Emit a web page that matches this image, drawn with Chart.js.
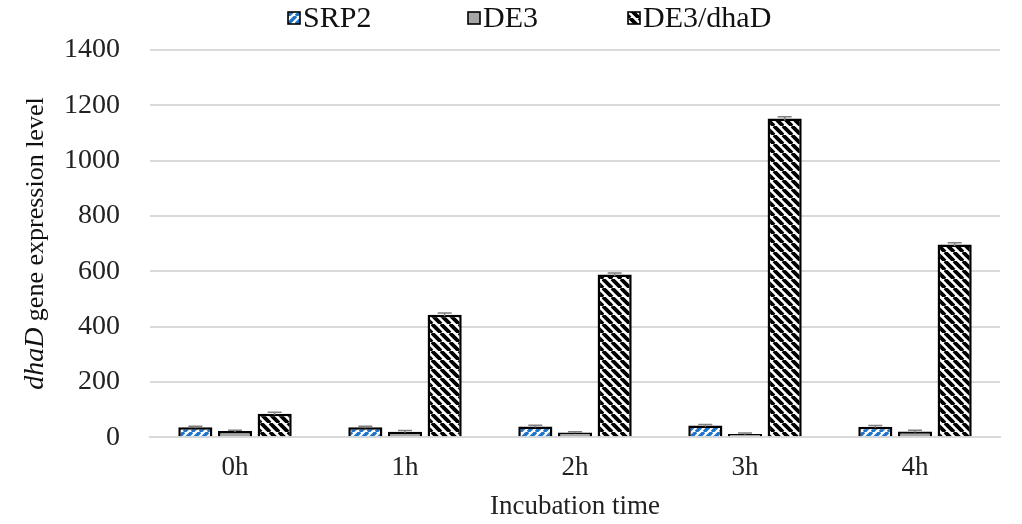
<!DOCTYPE html>
<html>
<head>
<meta charset="utf-8">
<script src="https://cdn.jsdelivr.net/npm/chart.js@4/dist/chart.umd.min.js"></script>
<style>
  html, body { margin: 0; padding: 0; background: #fff; }
  #wrap { width: 1022px; height: 524px; }
</style>
</head>
<body>
<div id="wrap"><canvas id="canvas1" width="1022" height="524"></canvas></div>
<script>
// Donnees
const categories = ['0h', '1h', '2h', '3h', '4h'];
const seriesNames = ['SRP2', 'DE3', 'DE3/dhaD'];
const srp2 = [36, 36, 39, 42, 38];
const de3 = [22, 20, 17, 12, 21];
const de3Dhad = [85, 443, 588, 1152, 697];
const srp2Err = [4, 4, 4, 4, 4];
const de3Err = [3, 4, 3, 3, 4];
const de3DhadErr = [5, 6, 6, 7, 6];
const yTicks = [0, 200, 400, 600, 800, 1000, 1200, 1400];

const serif = "'Liberation Serif', 'Times New Roman', serif";

// motifs de remplissage
function stripePattern(bg, fg, size, lineW, forward) {
    let c = document.createElement('canvas');
    c.width = size; c.height = size;
    let g = c.getContext('2d');
    g.fillStyle = bg;
    g.fillRect(0, 0, size, size);
    g.strokeStyle = fg;
    g.lineWidth = lineW;
    g.beginPath();
    for (let k = -1; k <= 1; k++) {
        if (forward) {
            g.moveTo(k * size, size);
            g.lineTo(k * size + size, 0);
        } else {
            g.moveTo(k * size, 0);
            g.lineTo(k * size + size, size);
        }
    }
    g.stroke();
    return g.createPattern(c, 'repeat');
}

let ctx = document.getElementById('canvas1').getContext('2d');
const blueStripes = stripePattern('#ffffff', '#1f73c8', 8, 3.4, true);
const greyFill = '#a6a6a6';
const blackStripes = stripePattern('#ffffff', '#000000', 9, 3.8, false);
const fills = [blueStripes, greyFill, blackStripes];

// barres d'erreur
const errorBars = {
    id: 'errorBars',
    afterDatasetsDraw(chart) {
        const c = chart.ctx;
        const y = chart.scales.y;
        chart.data.datasets.forEach((ds, i) => {
            const meta = chart.getDatasetMeta(i);
            meta.data.forEach((bar, j) => {
                const v = ds.data[j], e = ds.errors[j];
                const top = y.getPixelForValue(v + e);
                const bot = y.getPixelForValue(v - e);
                c.save();
                c.strokeStyle = '#7f7f7f';
                c.lineWidth = 1.5;
                c.beginPath();
                c.moveTo(bar.x, top); c.lineTo(bar.x, bot);
                c.moveTo(bar.x - 7, top); c.lineTo(bar.x + 7, top);
                c.stroke();
                c.restore();
            });
        });
    }
};

// legende et titre de l'axe y (dhaD en italique)
const customText = {
    id: 'customText',
    afterDraw(chart) {
        const c = chart.ctx;
        c.save();
        // legende
        const items = [[288, seriesNames[0]], [468, seriesNames[1]], [628, seriesNames[2]]];
        c.font = '30px ' + serif;
        c.textBaseline = 'middle';
        items.forEach((it, i) => {
            c.fillStyle = fills[i];
            c.fillRect(it[0], 12, 12, 12);
            c.strokeStyle = '#000';
            c.lineWidth = 1.6;
            c.strokeRect(it[0], 12, 12, 12);
            c.fillStyle = '#111';
            c.textAlign = 'left';
            c.fillText(it[1], it[0] + 15, 19);
        });
        // titre y
        const area = chart.chartArea;
        c.translate(36, (area.top + area.bottom) / 2);
        c.rotate(-Math.PI / 2);
        const part1 = 'dhaD', part2 = ' gene expression level';
        c.font = 'italic 28px ' + serif;
        const w1 = c.measureText(part1).width;
        c.font = '26px ' + serif;
        const w2 = c.measureText(part2).width;
        let x0 = -(w1 + w2) / 2;
        c.textAlign = 'left';
        c.fillStyle = '#111';
        c.font = 'italic 28px ' + serif;
        c.fillText(part1, x0, 0);
        c.font = '26px ' + serif;
        c.fillText(part2, x0 + w1, 0);
        c.restore();
    }
};

const datasets = [srp2, de3, de3Dhad].map((vals, i) => ({
    label: seriesNames[i],
    data: vals,
    errors: [srp2Err, de3Err, de3DhadErr][i],
    backgroundColor: fills[i],
    borderColor: '#000000',
    borderWidth: 2.5,
    borderSkipped: 'bottom',
    categoryPercentage: 0.7,
    barPercentage: 0.86
}));

let chart = new Chart(ctx, {
    type: 'bar',
    data: { labels: categories, datasets: datasets },
    options: {
        responsive: false,
        animation: false,
        layout: { autoPadding: false, padding: { top: 50, right: 22, left: 34, bottom: 0 } },
        plugins: {
            legend: { display: false },
            tooltip: { enabled: false }
        },
        scales: {
            x: {
                grid: { display: false, drawTicks: false },
                border: { display: true, color: '#d9d9d9', width: 2 },
                ticks: { font: { family: serif, size: 27 }, color: '#222', padding: 15 },
                title: {
                    display: true, text: 'Incubation time',
                    font: { family: serif, size: 27 }, color: '#222',
                    padding: { top: -9, bottom: 1 }
                }
            },
            y: {
                min: 0, max: 1400,
                afterBuildTicks(scale) { scale.ticks = yTicks.map(v => ({ value: v })); },
                grid: { color: '#d9d9d9', lineWidth: 2, drawTicks: false },
                border: { display: false },
                ticks: {
                    font: { family: serif, size: 28 }, color: '#222', padding: 30,
                    callback: v => String(v)
                }
            }
        }
    },
    plugins: [errorBars, customText]
});
</script>
</body>
</html>
